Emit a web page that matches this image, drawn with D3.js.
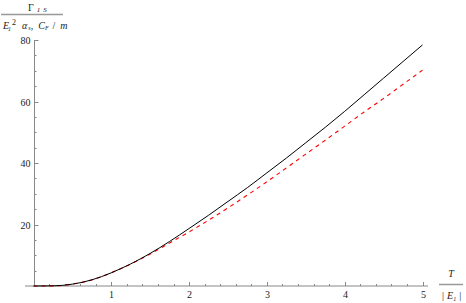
<!DOCTYPE html>
<meta charset="utf-8">
<title>Gamma 1S vs T</title>
<style>
    body { margin: 0; background: #fff; }
    svg text { font-family: "Liberation Serif", "DejaVu Serif", "Times New Roman", serif; fill: #222; }
    .tick text { font-size: 10px; }
    .lab { font-size: 10px; font-style: italic; }
</style>
<svg width="466" height="303" font-family="Liberation Serif, serif"></svg>
<script src="https://d3js.org/d3.v7.min.js"></script>
<script>

    // T / |E1|
    var tValues = [0, 0.25, 0.5, 0.75, 1, 1.25, 1.5, 1.75, 2, 2.25, 2.5, 2.75, 3, 3.25, 3.5, 3.75, 4, 4.25, 4.5, 4.75, 5];
    // full rate (solid black)
    var solidValues = [0, 0.05, 0.6, 2.0, 4.3, 7.2, 10.6, 14.5, 18.7, 23.0, 27.5, 32.0, 36.8, 41.6, 46.6, 51.6, 56.8, 62.2, 67.6, 73.0, 78.4];
    // approximation (dashed red)
    var dashedValues = [0, 0.05, 0.6, 2.0, 4.3, 7.15, 10.4, 14.0, 17.6, 21.4, 25.4, 29.6, 33.9, 38.4, 42.9, 47.4, 52.0, 56.6, 61.0, 65.6, 70.2];

    var xTicks = [1, 2, 3, 4, 5];
    var yTicks = [20, 40, 60, 80];

    var svg = d3.select("svg");

    var x = d3.scaleLinear().domain([0, 5]).range([33.5, 422.5]);
    var y = d3.scaleLinear().domain([0, 80]).range([286, 40]);

    var axisColor = "#888";

    // x axis: line a bit longer than the domain, ticks pointing up
    var gx = svg.append("g").attr("class", "x axis").attr("transform", "translate(0," + y(0) + ")");
    gx.append("line").attr("x1", 25).attr("x2", 428).attr("stroke", axisColor);
    gx.selectAll(".minor")
        .data(d3.range(0.2, 5.01, 0.2).filter(function(d) { return Math.abs(d - Math.round(d)) > 0.01; }))
        .enter().append("line")
        .attr("x1", function(d) { return Math.round(x(d)) + 0.5; })
        .attr("x2", function(d) { return Math.round(x(d)) + 0.5; })
        .attr("y1", 0).attr("y2", -2)
        .attr("stroke", axisColor);
    var xt = gx.selectAll(".tick").data(xTicks).enter().append("g")
        .attr("class", "tick")
        .attr("transform", function(d) { return "translate(" + (Math.round(x(d)) + 0.5) + ",0)"; });
    xt.append("line").attr("y1", 0).attr("y2", -4).attr("stroke", axisColor);
    xt.append("text").attr("y", 12).attr("text-anchor", "middle").text(function(d) { return d; });

    // y axis, ticks pointing right
    var gy = svg.append("g").attr("class", "y axis").attr("transform", "translate(" + (Math.round(x(0)) + 0.5) + ",0)");
    gy.append("line").attr("y1", y(0)).attr("y2", y(80)).attr("stroke", axisColor);
    gy.selectAll(".minor")
        .data(d3.range(5, 81, 5).filter(function(d) { return d % 20 !== 0; }))
        .enter().append("line")
        .attr("y1", function(d) { return Math.round(y(d)) + 0.5; })
        .attr("y2", function(d) { return Math.round(y(d)) + 0.5; })
        .attr("x1", 0).attr("x2", 2)
        .attr("stroke", axisColor);
    var yt = gy.selectAll(".tick").data(yTicks).enter().append("g")
        .attr("class", "tick")
        .attr("transform", function(d) { return "translate(0," + (Math.round(y(d)) + 0.5) + ")"; });
    yt.append("line").attr("x1", 0).attr("x2", 4).attr("stroke", axisColor);
    yt.append("text").attr("x", -4).attr("dy", "0.35em").attr("text-anchor", "end").text(function(d) { return d; });

    // curves
    var line = d3.line()
        .x(function(d) { return x(d[0]); })
        .y(function(d) { return y(d[1]); })
        .curve(d3.curveMonotoneX);

    svg.append("path")
        .datum(d3.zip(tValues, dashedValues))
        .attr("d", line)
        .attr("fill", "none")
        .attr("stroke", "#f00")
        .attr("stroke-width", 1.1)
        .attr("stroke-dasharray", "4,4");

    svg.append("path")
        .datum(d3.zip(tValues, solidValues))
        .attr("d", line)
        .attr("fill", "none")
        .attr("stroke", "#000")
        .attr("stroke-width", 1);

    // y label (fraction)
    var yl = svg.append("g");
    var num = yl.append("text").attr("class", "lab").attr("x", 28).attr("y", 11);
    num.append("tspan").style("font-style", "normal").text("Γ");
    num.append("tspan").attr("font-size", 7).attr("dy", 1).attr("dx", 3).text("1");
    num.append("tspan").attr("font-size", 7).attr("dx", 3).text("S");
    yl.append("line").attr("x1", 1).attr("x2", 63).attr("y1", 14.5).attr("y2", 14.5).attr("stroke", "#999").attr("stroke-width", 1.5);
    var den = yl.append("text").attr("class", "lab").attr("x", 3).attr("y", 29);
    den.append("tspan").text("E");
    den.append("tspan").attr("font-size", 6).attr("dy", 2).attr("dx", -1).text("1");
    den.append("tspan").attr("font-size", 8).attr("dy", -6).attr("dx", 1).style("font-style", "normal").text("2");
    den.append("tspan").attr("dy", 4).attr("dx", 6).text("α");
    den.append("tspan").attr("font-size", 6).attr("dy", 1).attr("dx", 1).text("s");
    den.append("tspan").attr("dy", -1).style("font-style", "normal").text(",");
    den.append("tspan").attr("dx", 5).text("C");
    den.append("tspan").attr("font-size", 6).attr("dy", 1).text("F");
    den.append("tspan").attr("dy", -1).attr("dx", 4).style("font-style", "normal").text("/");
    den.append("tspan").attr("dx", 5).text("m");

    // x label (fraction)
    var xl = svg.append("g");
    xl.append("text").attr("class", "lab").attr("x", 451).attr("y", 277).attr("text-anchor", "middle").text("T");
    xl.append("line").attr("x1", 439).attr("x2", 463).attr("y1", 284.5).attr("y2", 284.5).attr("stroke", "#999").attr("stroke-width", 1.5);
    var xd = xl.append("text").attr("class", "lab").attr("x", 442).attr("y", 299);
    xd.append("tspan").style("font-style", "normal").text("|");
    xd.append("tspan").attr("dx", 3).text("E");
    xd.append("tspan").attr("font-size", 6).attr("dy", 2).text("1");
    xd.append("tspan").attr("dy", -2).attr("dx", 3).style("font-style", "normal").text("|");

</script>
